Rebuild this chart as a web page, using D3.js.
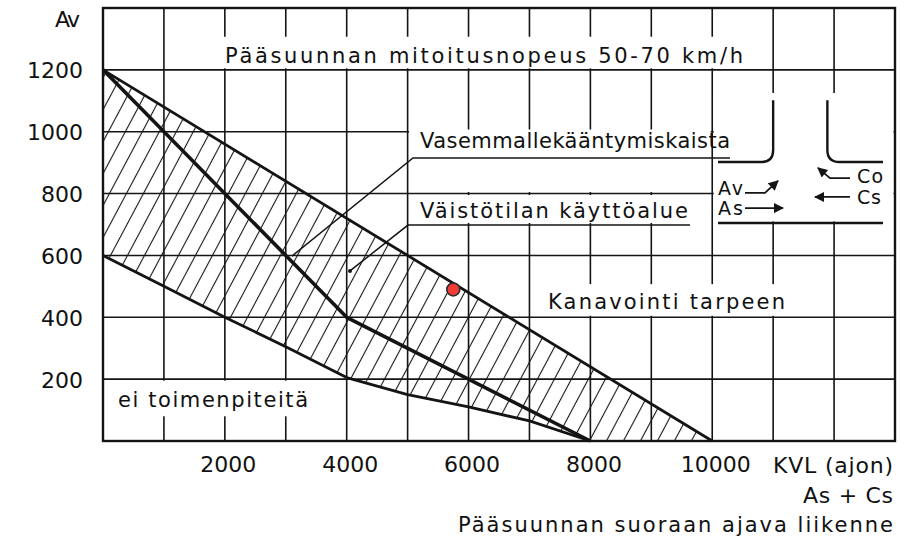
<!DOCTYPE html>
<html>
<head>
<meta charset="utf-8">
<script src="https://cdn.jsdelivr.net/npm/d3@7"></script>
<style>
  body { margin: 0; background: #fff; }
  text { font-family: "DejaVu Sans", sans-serif; fill: #111; }
</style>
</head>
<body>
<svg id="chart" width="920" height="540"></svg>
<script>
// data
const xTicks = [2000, 4000, 6000, 8000, 10000];
const yTicks = [200, 400, 600, 800, 1000, 1200];
const xGrid = [1000, 2000, 3000, 4000, 5000, 6000, 7000, 8000, 9000, 10000, 11000, 12000];
const yGrid = [200, 400, 600, 800, 1000, 1200];

// boundary lines [KVL, Av]
const upperLine = [[0, 1200], [10000, 0]];
const middleLine = [[0, 1200], [4000, 400], [8000, 0]];
const lowerLine = [[0, 600], [1000, 500], [2000, 400], [3000, 305], [4000, 205],
                   [5000, 150], [6000, 110], [7000, 65], [8000, 0]];
const marked = [[5750, 490]];

// chart setup
const svg = d3.select("#chart");
const x = d3.scaleLinear().domain([0, 13000]).range([103, 895]);
const y = d3.scaleLinear().domain([0, 1400]).range([441, 8]);
const ink = "#141414";

const defs = svg.append("defs");
const pat = defs.append("pattern")
    .attr("id", "hatch")
    .attr("patternUnits", "userSpaceOnUse")
    .attr("width", 15).attr("height", 15)
    .attr("patternTransform", "rotate(28)");
pat.append("line")
    .attr("x1", 7.5).attr("x2", 7.5).attr("y1", 0).attr("y2", 15)
    .attr("stroke", ink).attr("stroke-width", 1.1);

defs.append("marker")
    .attr("id", "head")
    .attr("viewBox", "0 0 10 10")
    .attr("refX", 9).attr("refY", 5)
    .attr("markerWidth", 12).attr("markerHeight", 10)
    .attr("markerUnits", "userSpaceOnUse")
    .attr("orient", "auto")
  .append("path")
    .attr("d", "M0,0 L10,5 L0,10 z")
    .attr("fill", ink);

// grid
const grid = svg.append("g").attr("stroke", ink).attr("stroke-width", 1.6);
grid.selectAll(".vx").data(xGrid).join("line")
    .attr("x1", d => x(d)).attr("x2", d => x(d))
    .attr("y1", y(0)).attr("y2", y(1400));
grid.selectAll(".hy").data(yGrid).join("line")
    .attr("x1", x(0)).attr("x2", x(13000))
    .attr("y1", d => y(d)).attr("y2", d => y(d));

// white label boxes that interrupt the grid
const boxes = [
  [1920, 10620, 1200, 1312],
  [5000, 10000, 800, 1012],
  [5000, 10000, 700, 800],
  [10000, 13000, 705, 1130],
  [7300, 11500, 400, 512],
  [0, 4000, 75, 200]
];
svg.append("g").selectAll("rect").data(boxes).join("rect")
    .attr("x", d => x(d[0]) + 1.5)
    .attr("y", d => y(d[3]) + 1.5)
    .attr("width", d => x(d[1]) - x(d[0]) - 3)
    .attr("height", d => y(d[2]) - y(d[3]) - 3)
    .attr("fill", "#fff");

// frame
svg.append("rect")
    .attr("x", x(0)).attr("y", y(1400))
    .attr("width", x(13000) - x(0)).attr("height", y(0) - y(1400))
    .attr("fill", "none").attr("stroke", ink).attr("stroke-width", 2.4);

// hatched area between upper and lower boundary
const line = d3.line().x(d => x(d[0])).y(d => y(d[1]));
const area = upperLine.concat(lowerLine.slice().reverse());
svg.append("path")
    .attr("d", line(area) + "Z")
    .attr("fill", "url(#hatch)");

// boundary lines
svg.append("path").datum(upperLine).attr("d", line)
    .attr("fill", "none").attr("stroke", ink).attr("stroke-width", 2.8);
svg.append("path").datum(middleLine).attr("d", line)
    .attr("fill", "none").attr("stroke", ink).attr("stroke-width", 3.6)
    .attr("stroke-linejoin", "round");
svg.append("path").datum(lowerLine).attr("d", line)
    .attr("fill", "none").attr("stroke", ink).attr("stroke-width", 2.8)
    .attr("stroke-linejoin", "round");

// axes
const yAxis = svg.append("g")
    .attr("transform", `translate(${x(0)},0)`)
    .call(d3.axisLeft(y).tickValues(yTicks).tickFormat(d3.format("d"))
        .tickSize(0).tickPadding(20));
yAxis.select(".domain").remove();
yAxis.selectAll("text").attr("font-size", 22).attr("dy", "0.36em")
    .attr("font-family", "DejaVu Sans").attr("fill", ink);

const xAxis = svg.append("g")
    .attr("transform", `translate(3,${y(0)})`)
    .call(d3.axisBottom(x).tickValues(xTicks).tickFormat(d3.format("d"))
        .tickSize(0).tickPadding(15));
xAxis.select(".domain").remove();
xAxis.selectAll("text").attr("font-size", 22)
    .attr("font-family", "DejaVu Sans").attr("fill", ink);

// leaders
const lead = svg.append("g").attr("stroke", ink).attr("stroke-width", 1.5).attr("fill", "none");
lead.append("path").datum([[3102, 598], [5088, 915], [10292, 915]]).attr("d", line);
lead.append("path").datum([[4054, 550], [5006, 698], [9635, 698]]).attr("d", line);
svg.append("circle").attr("cx", x(4054)).attr("cy", y(550)).attr("r", 2).attr("fill", ink);

// marked point
svg.selectAll(".pt").data(marked).join("circle")
    .attr("cx", d => x(d[0])).attr("cy", d => y(d[1])).attr("r", 6.5)
    .attr("fill", "#f03c37").attr("stroke", "#2a2a2a").attr("stroke-width", 1.6);

// labels
const labels = [
  { t: "Pääsuunnan mitoitusnopeus 50-70 km/h", x: 225, y: 63, w: 518, s: 21 },
  { t: "Vasemmallekääntymiskaista", x: 420, y: 148, w: 310, s: 21 },
  { t: "Väistötilan käyttöalue", x: 420, y: 218, w: 268, s: 21 },
  { t: "Kanavointi tarpeen", x: 548, y: 309, w: 237, s: 21 },
  { t: "ei toimenpiteitä", x: 118, y: 407, w: 190, s: 21 },
  { t: "KVL (ajon)", x: 773, y: 473, w: 120, s: 22 },
  { t: "As + Cs", x: 803, y: 503, w: 90, s: 22 },
  { t: "Pääsuunnan suoraan ajava liikenne", x: 458, y: 532, w: 435, s: 21 },
  { t: "Av", x: 55, y: 27, w: 25, s: 22 },
  { t: "Av", x: 718, y: 195, w: 25, s: 19 },
  { t: "As", x: 718, y: 215, w: 25, s: 19 },
  { t: "Co", x: 857, y: 183, w: 26, s: 19 },
  { t: "Cs", x: 857, y: 204, w: 24, s: 19 }
];
svg.append("g").selectAll("text").data(labels).join("text")
    .attr("x", d => d.x).attr("y", d => d.y)
    .attr("font-size", d => d.s)
    .attr("textLength", d => d.w)
    .attr("lengthAdjust", "spacing")
    .text(d => d.t);

// intersection sketch
const sk = svg.append("g").attr("stroke", ink).attr("fill", "none").attr("stroke-width", 2.4);
const r = 12;
const yTop = y(1102), yRoad = y(902), xl = x(11000), xr = x(11890);
sk.append("path").attr("d",
  `M${xl},${yTop} V${yRoad - r} Q${xl},${yRoad} ${xl - r},${yRoad} H${x(10095)}`);
sk.append("path").attr("d",
  `M${xr},${yTop} V${yRoad - r} Q${xr},${yRoad} ${xr + r},${yRoad} H${x(12803)}`);
sk.append("line").attr("x1", x(10095)).attr("x2", x(12803))
    .attr("y1", y(705)).attr("y2", y(705)).attr("stroke-width", 2.6);

const arrows = [
  [[10538, 802], [10866, 802], [11079, 841]],
  [[10538, 753], [11162, 753]],
  [[12261, 850], [11933, 850], [11736, 883]],
  [[12261, 789], [11687, 789]]
];
sk.selectAll(".arr").data(arrows).join("path")
    .attr("d", line).attr("stroke-width", 1.8)
    .attr("marker-end", "url(#head)");
</script>
</body>
</html>
